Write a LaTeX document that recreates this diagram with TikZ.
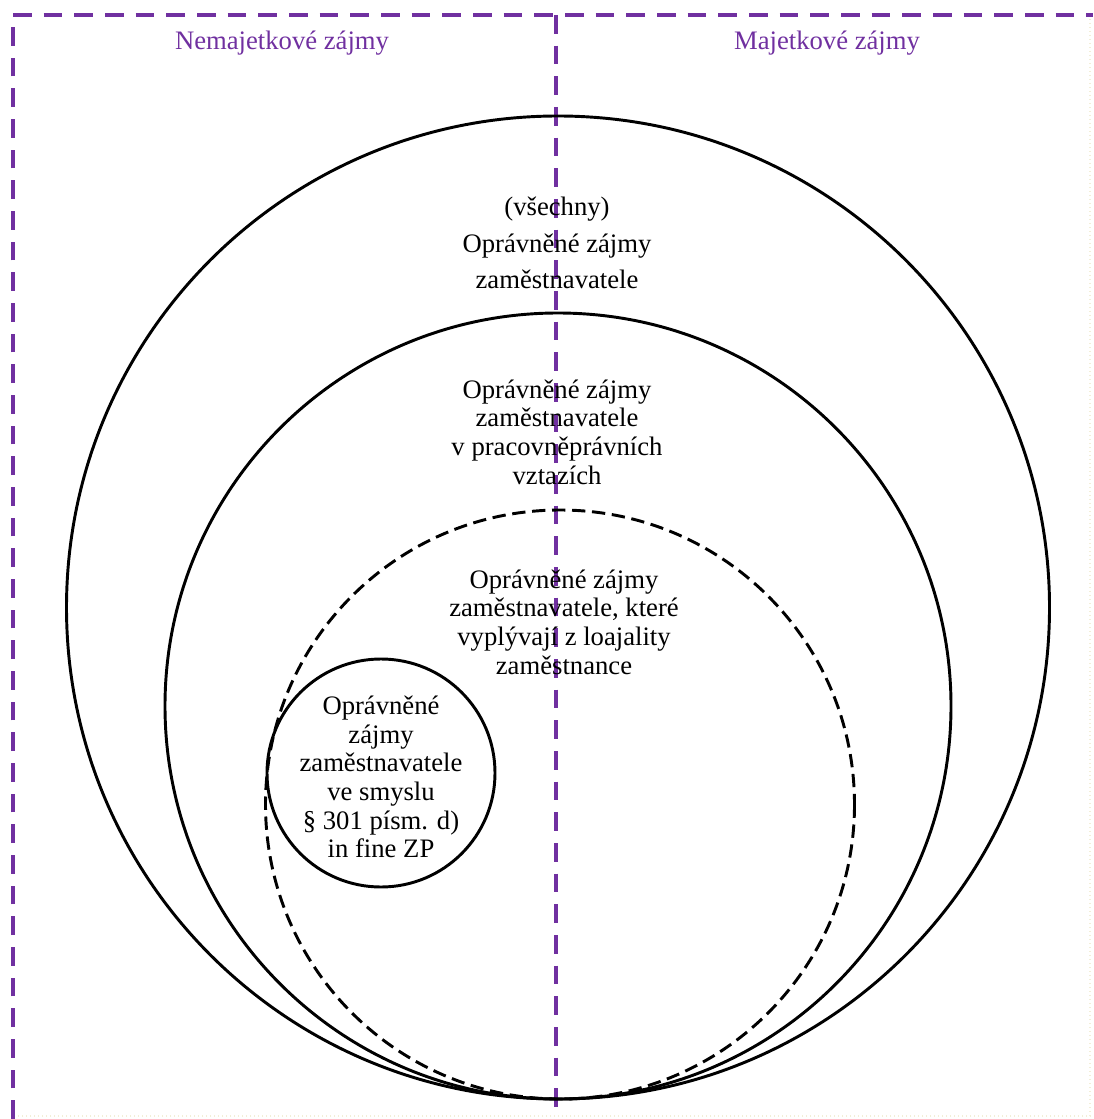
\documentclass[tikz,border=0pt]{standalone}
\usepackage{fontspec}
\setmainfont{Liberation Serif}
\definecolor{fialova}{RGB}{112,48,160}
\definecolor{svetla}{RGB}{242,238,215}

\begin{document}
\begin{tikzpicture}[x=0.75pt, y=-0.75pt, line width=2.2pt]
  \useasboundingbox (0,0) rectangle (1093,1119);
  \tikzset{
    hranice/.style={fialova, line width=2.6pt, dash pattern=on 14pt off 9pt},
    popis/.style={align=center, inner sep=0pt, font=\fontsize{20}{21.5}\selectfont},
    nadpis/.style={fialova, inner sep=0pt, font=\fontsize{20}{24}\selectfont}
  }
  % ramecek a deleni na dve poloviny
  \draw[svetla, line width=1pt, dotted] (1090,15) -- (1090,1116) -- (13,1116);
  \draw[hranice] (13,1119) -- (13,15) -- (1093,15);
  \draw[hranice] (556,15) -- (556,1119);
  \node[nadpis] (nemaj) at (282,43) {Nemajetkové zájmy};
  \node[nadpis] (maj)   at (827,43) {Majetkové zájmy};
  % kruhy (vsechny se dotykaji dole v bode (558,1099))
  \draw (558,607.5) circle[radius=491.5];
  \draw (558,706) circle[radius=393];
  \draw[dash pattern=on 10pt off 5pt] (560,804.5) circle[radius=294.5];
  \draw (381,773) circle[radius=114];
  % texty
  \node[popis] (vsechny) at (557,243)
    {(všechny)\\[6pt] Oprávněné zájmy\\[6pt] zaměstnavatele};
  \node[popis] (pracovni) at (557,432)
    {Oprávněné zájmy\\ zaměstnavatele\\ v pracovněprávních\\ vztazích};
  \node[popis] (loajalita) at (564,622)
    {Oprávněné zájmy\\ zaměstnavatele, které\\ vyplývají z loajality\\ zaměstnance};
  \node[popis] (zp) at (381,777)
    {Oprávněné\\ zájmy\\ zaměstnavatele\\ ve smyslu\\ § 301 písm. d)\\ in fine ZP};
\end{tikzpicture}
\end{document}
